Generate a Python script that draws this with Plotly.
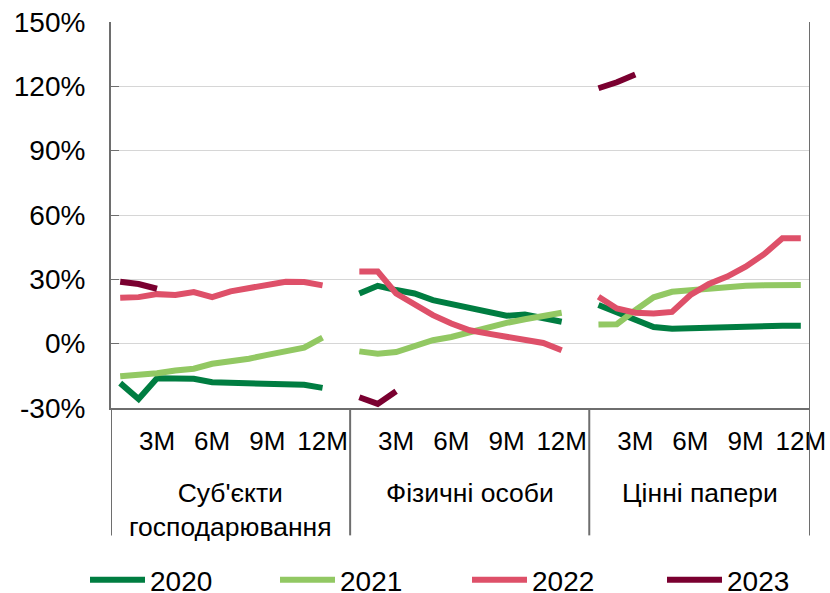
import plotly.graph_objects as go

# ---- data ----
groups = ["Суб'єкти<br>господарювання", "Фізичні особи", "Цінні папери"]
months = list(range(1, 13))
tick_months = [3, 6, 9, 12]
tick_labels = ["3M", "6M", "9M", "12M"]
years = ["2020", "2021", "2022", "2023"]
y_ticks = [-30, 0, 30, 60, 90, 120, 150]
y_tick_text = ["-30%", "0%", "30%", "60%", "90%", "120%", "150%"]

y2020_biz = [-18.4, -25.8, -16.1, -16.3, -16.4, -18.0, -18.3, -18.4, -19.2, -19.2, -19.2, -20.6]
y2020_ind = [23.4, 27.0, 25.0, 23.4, 20.3, 18.4, 16.4, 14.8, 13.0, 13.6, 11.7, 10.2]
y2020_sec = [18.0, 14.8, 11.7, 7.8, 7.0, 7.3, 7.3, 7.5, 7.8, 8.1, 8.4, 8.4]

y2021_biz = [-15.2, -14.7, -13.8, -12.5, -11.7, -9.4, -8.3, -7.0, -5.2, -3.6, -1.9, 2.8]
y2021_ind = [-3.6, -4.7, -3.9, -1.25, 1.6, 3.1, 5.5, 7.8, 9.7, 11.4, 13.0, 14.4]
y2021_sec = [8.9, 9.1, 15.6, 21.6, 24.2, 25.0, 25.8, 26.6, 27.0, 27.2, 27.3, 27.3]

y2022_biz = [21.4, 21.7, 23.1, 22.7, 24.1, 21.7, 24.4, 25.8, 27.3, 28.9, 28.75, 27.2]
y2022_ind = [33.6, 33.6, 23.4, 18.0, 13.3, 9.4, 6.25, 4.7, 3.4, 2.3, 0.3, -3.1]
y2022_sec = [21.9, 16.4, 14.4, 14.1, 14.8, 22.7, 27.8, 31.25, 35.9, 41.7, 49.2, 49.2]

y2023_biz = [28.9, 27.8, 25.6]
y2023_ind = [-25.0, -28.1, -22.2]
y2023_sec = [119.1, 121.9, 125.5]

series = {
    "2020": [y2020_biz, y2020_ind, y2020_sec],
    "2021": [y2021_biz, y2021_ind, y2021_sec],
    "2022": [y2022_biz, y2022_ind, y2022_sec],
    "2023": [y2023_biz, y2023_ind, y2023_sec],
}
colors = {"2020": "#007d41", "2021": "#92c863", "2022": "#de5069", "2023": "#7a0030"}

SLOT = 13  # 12 months + one empty slot per group


def xpos(g, m):
    return g * SLOT + (m - 1)


fig = go.Figure()
legend_ids = ["legend", "legend2", "legend3", "legend4"]
for yr, lid in zip(years, legend_ids):
    xs, ys = [], []
    for g, vals in enumerate(series[yr]):
        for m, v in zip(months, vals):
            xs.append(xpos(g, m))
            ys.append(v)
        xs.append(None)
        ys.append(None)
    fig.add_trace(go.Scatter(x=xs, y=ys, mode="lines", name=yr, legend=lid,
                             line=dict(color=colors[yr], width=6),
                             connectgaps=False))

tickvals = [xpos(g, m) for g in range(3) for m in tick_months]
ticktext = tick_labels * 3

AXC = "#6e6e6e"
fig.update_xaxes(range=[-0.5, 3 * SLOT - 1.5], tickmode="array", tickvals=tickvals,
                 ticktext=ticktext, showgrid=False, zeroline=False, showline=True,
                 linecolor=AXC, linewidth=2, ticks="", ticklabelstandoff=9,
                 tickfont=dict(size=26, color="#000000"))
fig.update_yaxes(range=[-30, 150], tickmode="array", tickvals=y_ticks, ticktext=y_tick_text,
                 showgrid=True, gridcolor="#d6d6d6", gridwidth=1.3,
                 zeroline=False, showline=True, linecolor=AXC, linewidth=2,
                 ticks="inside", ticklen=8, tickcolor=AXC, ticklabelstandoff=18,
                 tickfont=dict(size=28, color="#000000"))

bottom = -0.33
seps = [-0.5, SLOT - 0.5, 2 * SLOT - 0.5]
for sx in seps:
    fig.add_shape(type="line", xref="x", yref="paper", x0=sx, x1=sx, y0=0, y1=bottom,
                  line=dict(color=AXC, width=2))
xr = 3 * SLOT - 1.5
fig.add_shape(type="line", xref="x", yref="paper", x0=xr, x1=xr, y0=1, y1=bottom,
              line=dict(color=AXC, width=2))

group_centers = [(-0.5 + SLOT - 0.5) / 2, (SLOT - 0.5 + 2 * SLOT - 0.5) / 2,
                 (2 * SLOT - 0.5 + xr) / 2]
for name, cx in zip(groups, group_centers):
    fig.add_annotation(x=cx, y=-0.175, xref="x", yref="paper", text=name,
                       showarrow=False, yanchor="top",
                       font=dict(size=26.5, color="#000000"))

leg_x = [85, 275, 467, 662]
layout_legends = {}
for lid, lx in zip(legend_ids, leg_x):
    layout_legends[lid] = dict(orientation="h", xref="container", yref="container",
                               x=lx / 830, xanchor="left", y=(593 - 580) / 593,
                               yanchor="middle", font=dict(size=28), itemwidth=55,
                               bgcolor="rgba(0,0,0,0)")

fig.update_layout(
    width=830, height=593,
    margin=dict(l=111, r=20, t=22, b=185, autoexpand=False),
    plot_bgcolor="white", paper_bgcolor="white",
    font=dict(family="Liberation Sans, Arial, sans-serif", color="#000000"),
    showlegend=True,
    **layout_legends,
)

fig.write_html("out.html", config={"displayModeBar": False},
               post_script="document.body.style.margin='0';")
